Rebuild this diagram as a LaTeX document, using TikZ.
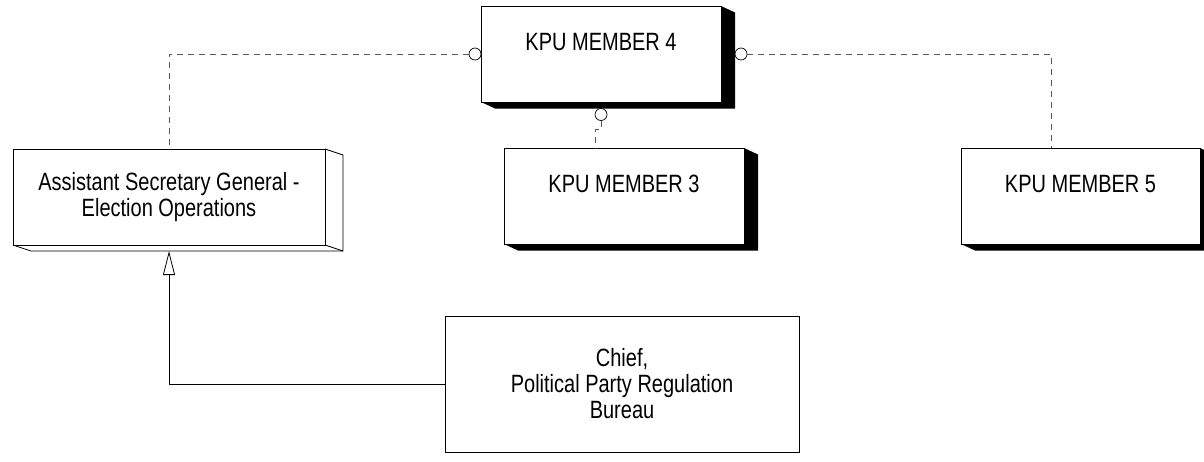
\documentclass[tikz,border=0pt]{standalone}
\usepackage{fontspec}
\setmainfont{Liberation Sans}[FakeStretch=0.8]
\usetikzlibrary{positioning, calc, arrows.meta}

\begin{document}
\begin{tikzpicture}[x=1pt, y=1pt,
                every node/.style={font=\fontsize{25}{26}\selectfont},
                office/.style={draw, line width=0.8pt, inner sep=0pt, outer sep=0pt,
                  align=center, minimum width=#1},
                office/.default=240pt,
                member/.style={office, minimum height=96pt, text depth=24pt},
                port/.style={circle, draw, fill=white, line width=0.7pt,
                  minimum size=12pt, inner sep=0pt, outer sep=0pt},
                link/.style={dashed, dash pattern=on 6pt off 5pt, black!65, line width=0.8pt},
                isa/.style={line width=0.8pt, -{Triangle[open, length=24pt, width=12pt]}}
              ]
  \useasboundingbox (0,0) rectangle (1204,-461);
  % boxes
  \node [member] (m4) at (601,-54) {KPU MEMBER 4};
  \node [member, below right=46pt and 23pt of m4.south west] (m3) {KPU MEMBER 3};
  \node [member, below right=46pt and 240pt of m4.south east, minimum width=239pt] (m5) {KPU MEMBER 5};
  \node [office=312pt, minimum height=96pt, below left=47pt and 156pt of m4.south west] (asg)
        {Assistant Secretary General -\\Election Operations};
  \node [office=354pt, minimum height=136pt, below right=71pt and 120pt of asg.south east] (chief)
        {Chief,\\Political Party Regulation\\Bureau};
  % shadows
  \foreach \b in {m4, m3, m5}
    \fill (\b.north east) -- ++(14,-6.5) |- ([shift={(14,-6.5)}]\b.south west)
          -- (\b.south west) -- (\b.south east) -- cycle;
  \draw [line width=0.8pt] (asg.north east) -- ++(18,-6) |- ([shift={(18,-6)}]asg.south west)
        -- (asg.south west);
  \draw [line width=0.8pt] (asg.south east) -- ++(18,-6);
  % ports
  \node [port, left=0pt of m4.west] (p4w) {};
  \node [port, right=14pt of m4.east] (p4e) {};
  \node [port, below=6.5pt of m4.south] (p4s) {};
  % connectors
  \draw [link] (p4w.west) -| (asg.north);
  \draw [link] (p4e.east) -| ([xshift=90pt]m5.north west);
  \draw [link] (p4s.south) -- ++(0,-9) -| ([xshift=91pt]m3.north west);
  \draw [isa] (chief.west) -| ([yshift=-6pt]asg.south);
\end{tikzpicture}
\end{document}
